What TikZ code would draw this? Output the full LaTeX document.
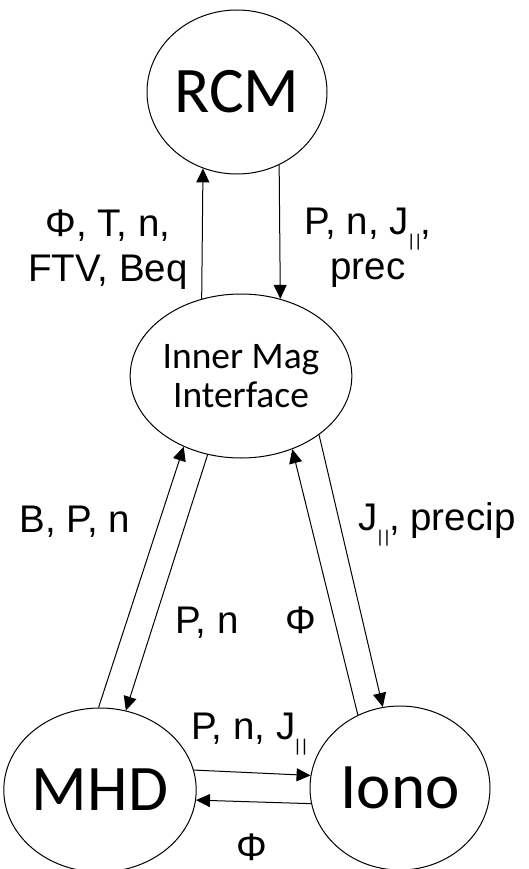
\documentclass[tikz,border=0pt]{standalone}
\usepackage{fontspec}
\setmainfont{Liberation Sans}
\newfontfamily\boxfont{Carlito}
\usetikzlibrary{shapes.geometric,arrows.meta}

% parallel-bar subscript
\newcommand\parsub{\raisebox{-12pt}{\fontsize{17}{17}\selectfont|\kern2.6pt|}}

\begin{document}
\begin{tikzpicture}[x=1pt,y=1pt,
  module/.style={draw, line width=1pt, ellipse, minimum width=180pt,
    minimum height=164pt, inner sep=0pt},
  bigname/.style={font=\boxfont\fontsize{65}{70}\selectfont},
  link/.style={line width=1pt, -{Triangle[length=14pt,width=13pt]}},
  lab/.style={font=\fontsize{38.5}{45}\selectfont, inner sep=0pt, align=center}]
\useasboundingbox (0,0) rectangle (529,-869);

% model components
\node[module, bigname] (rcm)   at (237,-92)  {RCM};
\node[module, align=center, font=\boxfont\fontsize{37.5}{38.5}\selectfont]
      (inner) at (241,-376) {Inner Mag\\Interface};
\node[module, bigname] (mhd)   at (100,-790) {MHD};
\node[module, bigname] (iono)  at (400,-788) {Iono};

% couplings
\draw[link] (inner.117) -- (rcm.246);
\draw[link] (rcm.300)   -- (inner.63);
\draw[link] (mhd.91)    -- (inner.231);
\draw[link] (inner.247) -- (mhd.72);
\draw[link] (iono.120)  -- (inner.305);
\draw[link] (inner.323) -- (iono.102);
\draw[link] (mhd.12)    -- (iono.172);
\draw[link] (iono.190)  -- (mhd.354);

% exchanged quantities (base = last line)
\node[lab, anchor=base] (l1) at (108,-281) {Φ, T, n,\\FTV, Beq};
\node[lab, anchor=base] (l2) at (368,-279) {P, n, J\parsub,\\prec};
\node[lab, anchor=base] (l3) at (75,-532)  {B, P, n};
\node[lab, anchor=base] (l4) at (437,-530) {J\parsub, precip};
\node[lab, anchor=base] (l5) at (207,-633) {P, n};
\node[lab, anchor=base] (l6) at (301,-633) {Φ};
\node[lab, anchor=base] (l7) at (249,-739) {P, n, J\parsub};
\node[lab, anchor=base] (l8) at (252,-860) {Φ};
\end{tikzpicture}
\end{document}
